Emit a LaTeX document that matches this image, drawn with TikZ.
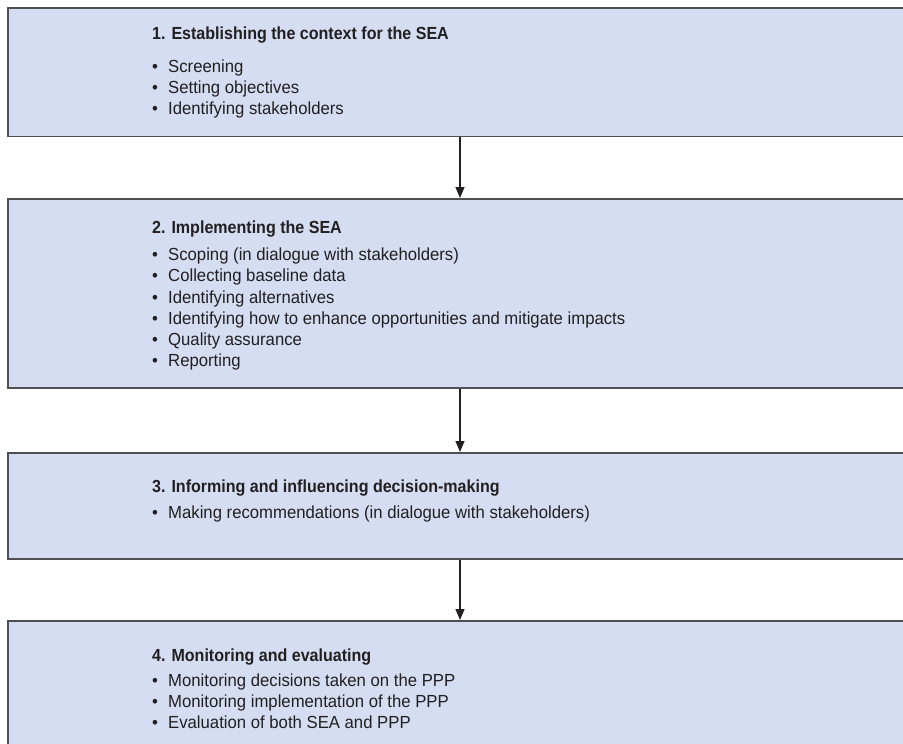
\documentclass[tikz,border=0pt]{standalone}
\usepackage{fontspec}
\setmainfont{Liberation Sans}[FakeStretch=0.955,BoldFeatures={FakeStretch=0.917}]
\usetikzlibrary{arrows.meta}
\usetikzlibrary{positioning}
\tikzset{>={Triangle[length=11pt,width=9pt]}}
\definecolor{stageblue}{RGB}{212,221,241}
\definecolor{stageline}{RGB}{80,80,84}
\definecolor{inkgray}{RGB}{35,31,32}
\tikzstyle{stagebox}=[draw=stageline,fill=stageblue,line width=1.6pt,minimum width=930pt,inner sep=0pt,anchor=north west]
\tikzstyle{stagetext}=[text=inkgray,font=\fontsize{17.5}{21.2}\selectfont,align=left,inner sep=0pt,anchor=north west]
\tikzstyle{flowline}=[draw=inkgray,line width=1.2pt]
\newcommand{\stageitem}[1]{\makebox[16pt][l]{\textbullet}#1}

\begin{document}
\begin{tikzpicture}[x=1pt,y=-1pt]
    \useasboundingbox (0,0) rectangle (903,744);
    \clip (0,0) rectangle (903,744);

    \node[stagebox,minimum height=128.5pt] (box1) at (7,7) {};
    \node[stagebox,minimum height=189pt] (box2) at (7,198) {};
    \node[stagebox,minimum height=106pt] (box3) at (7,452) {};
    \node[stagebox,minimum height=160pt] (box4) at (7,620) {};

    \node[stagetext] (txt1) at (152,26.7) {\textbf{1. Establishing the context for the SEA}\\[11.8pt]
        \stageitem{Screening}\\
        \stageitem{Setting objectives}\\
        \stageitem{Identifying stakeholders}};
    \node[stagetext] (txt2) at (152,220.2) {\textbf{2. Implementing the SEA}\\[6.5pt]
        \stageitem{Scoping (in dialogue with stakeholders)}\\
        \stageitem{Collecting baseline data}\\
        \stageitem{Identifying alternatives}\\
        \stageitem{Identifying how to enhance opportunities and mitigate impacts}\\
        \stageitem{Quality assurance}\\
        \stageitem{Reporting}};
    \node[stagetext] (txt3) at (152,479.2) {\textbf{3. Informing and influencing decision-making}\\[4.8pt]
        \stageitem{Making recommendations (in dialogue with stakeholders)}};
    \node[stagetext] (txt4) at (152,648.2) {\textbf{4. Monitoring and evaluating}\\[3.8pt]
        \stageitem{Monitoring decisions taken on the PPP}\\
        \stageitem{Monitoring implementation of the PPP}\\
        \stageitem{Evaluation of both SEA and PPP}};

    % arrows between the stages
    \coordinate (axis) at (460,0);
    \draw[flowline,->] (box1.south -| axis) -- (box2.north -| axis);
    \draw[flowline,->] (box2.south -| axis) -- (box3.north -| axis);
    \draw[flowline,->] (box3.south -| axis) -- (box4.north -| axis);
\end{tikzpicture}
\end{document}
